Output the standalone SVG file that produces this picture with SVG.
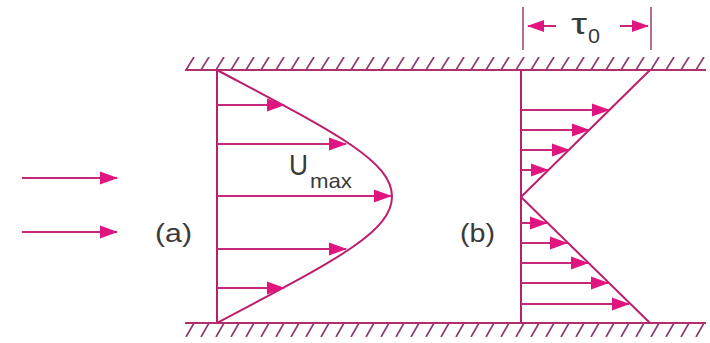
<svg xmlns="http://www.w3.org/2000/svg" width="710" height="343" viewBox="0 0 710 343">
<style>
.ln{stroke:#bb1f6c;stroke-width:2;fill:none}
.ar{stroke:#c8287a;stroke-width:2;fill:none;marker-end:url(#ah)}
.txt{font-family:"Liberation Sans",Arial,sans-serif;fill:#3a3a3a}
.tk{stroke:#a04a78;stroke-width:1.6}
</style>
<defs>
<marker id="ah" markerUnits="userSpaceOnUse" markerWidth="19" markerHeight="14" refX="17" refY="7" orient="auto">
<path d="M0,0.5 L18,7 L0,13.5 z" fill="#e0157f"/>
</marker>
<marker id="ahs" markerUnits="userSpaceOnUse" markerWidth="18" markerHeight="14" refX="16" refY="7" orient="auto">
<path d="M0,1 L17,7 L0,13 z" fill="#e0157f"/>
</marker>
<pattern id="hatchTop" patternUnits="userSpaceOnUse" x="185" y="57" width="15" height="13">
<line x1="1" y1="13" x2="9" y2="0" stroke="#8e3a6e" stroke-width="1.7"/>
</pattern>
<pattern id="hatchBot" patternUnits="userSpaceOnUse" x="185" y="323" width="15" height="14">
<line x1="1" y1="14" x2="9" y2="0" stroke="#8e3a6e" stroke-width="1.7"/>
</pattern>
</defs>
<rect width="710" height="343" fill="#ffffff"/>

<g id="walls">
<rect x="185" y="57" width="521" height="13" fill="url(#hatchTop)"/>
<line x1="185" y1="70" x2="706" y2="70" stroke="#b0306e" stroke-width="2"/>
<rect x="185" y="323" width="521" height="14" fill="url(#hatchBot)"/>
<line x1="185" y1="323" x2="706" y2="323" stroke="#b0306e" stroke-width="2"/>
</g>

<g id="inflow">
<line class="ar" x1="22" y1="178" x2="117" y2="178"/>
<line class="ar" x1="22" y1="232" x2="117" y2="232"/>
</g>

<g id="profile-a">
<line class="ln" x1="217" y1="70" x2="217" y2="323"/>
<path class="ln" d="M217,70 C330,130 392,160 392,196.5 C392,233 330,263 217,323"/>
<line class="ar" x1="217" y1="105" x2="284" y2="105"/>
<line class="ar" x1="217" y1="144" x2="346" y2="144"/>
<line class="ar" x1="217" y1="196" x2="391" y2="196"/>
<line class="ar" x1="217" y1="249" x2="346" y2="249"/>
<line class="ar" x1="217" y1="288" x2="284" y2="288"/>
</g>

<g id="profile-b">
<line class="ln" x1="521" y1="70" x2="521" y2="323"/>
<path class="ln" d="M650,70 L521,197 L650,323"/>
<line class="ar" x1="521" y1="110" x2="609" y2="110"/>
<line class="ar" x1="521" y1="130" x2="589" y2="130"/>
<line class="ar" x1="521" y1="150" x2="569" y2="150"/>
<line class="ar" x1="521" y1="170" x2="548" y2="170"/>
<line class="ar" x1="521" y1="223" x2="547" y2="223"/>
<line class="ar" x1="521" y1="243" x2="567" y2="243"/>
<line class="ar" x1="521" y1="263" x2="588" y2="263"/>
<line class="ar" x1="521" y1="283" x2="608" y2="283"/>
<line class="ar" x1="521" y1="304" x2="629" y2="304"/>
</g>

<g id="dimension">
<line class="tk" x1="523" y1="7" x2="523" y2="50"/>
<line class="tk" x1="651" y1="7" x2="651" y2="50"/>
<line x1="556" y1="26" x2="528" y2="26" stroke="#c8287a" stroke-width="2" marker-end="url(#ahs)"/>
<line x1="620" y1="26" x2="648" y2="26" stroke="#c8287a" stroke-width="2" marker-end="url(#ahs)"/>
<text class="txt" x="571" y="34" font-size="30" textLength="16" lengthAdjust="spacingAndGlyphs">τ</text>
<text class="txt" x="588" y="43" font-size="21" textLength="12" lengthAdjust="spacingAndGlyphs">0</text>
</g>

<g id="labels">
<text class="txt" x="289" y="175" font-size="30" textLength="19" lengthAdjust="spacingAndGlyphs">U</text>
<text class="txt" x="310" y="188" font-size="21" textLength="42" lengthAdjust="spacingAndGlyphs">max</text>
<text class="txt" x="155" y="242" font-size="26" textLength="37" lengthAdjust="spacingAndGlyphs">(a)</text>
<text class="txt" x="460" y="242" font-size="26" textLength="35" lengthAdjust="spacingAndGlyphs">(b)</text>
</g>
</svg>
